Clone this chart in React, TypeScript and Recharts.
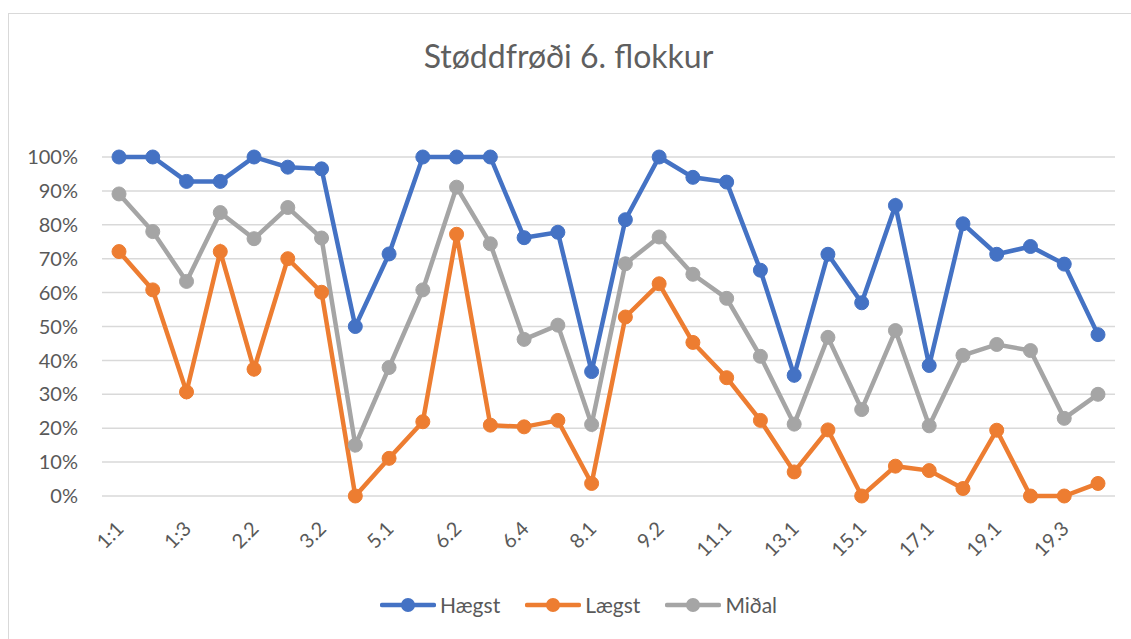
import React from 'react';
import { LineChart, Line, XAxis, YAxis, CartesianGrid, Legend } from 'recharts';

const categories = [
  '1:1', '1:2', '1:3', '2.1', '2.2', '3.1', '3.2', '4.1', '5.1', '6.1',
  '6.2', '6.3', '6.4', '7.1', '8.1', '9.1', '9.2', '10.1', '11.1', '12.1',
  '13.1', '14.1', '15.1', '16.1', '17.1', '18.1', '19.1', '19.2', '19.3', '20.1',
];

const haegst = [
  100, 100, 92.8, 92.8, 100, 97, 96.5, 50, 71.4, 100,
  100, 100, 76.2, 77.8, 36.7, 81.5, 100, 94, 92.6, 66.6,
  35.6, 71.3, 57, 85.7, 38.5, 80.3, 71.3, 73.6, 68.4, 47.6,
];

const laegst = [
  72.1, 60.8, 30.7, 72.1, 37.4, 70, 60.1, 0, 11.1, 21.9,
  77.2, 20.9, 20.4, 22.3, 3.7, 52.8, 62.6, 45.3, 34.9, 22.3,
  7.1, 19.5, 0, 8.8, 7.5, 2.2, 19.4, 0, 0, 3.7,
];

const midal = [
  89.1, 78, 63.3, 83.6, 75.9, 85.1, 76.1, 15, 37.9, 60.8,
  91.1, 74.4, 46.2, 50.4, 21.1, 68.5, 76.4, 65.4, 58.3, 41.2,
  21.2, 46.8, 25.5, 48.8, 20.7, 41.5, 44.7, 42.9, 22.9, 30,
];

const yTicks = [0, 10, 20, 30, 40, 50, 60, 70, 80, 90, 100];

const series = [
  { key: 'haegst', name: 'Hægst', color: '#4472C4' },
  { key: 'laegst', name: 'Lægst', color: '#ED7D31' },
  { key: 'midal', name: 'Miðal', color: '#A5A5A5' },
];

const data = categories.map((c, i) => ({
  name: c,
  haegst: haegst[i],
  laegst: laegst[i],
  midal: midal[i],
}));

const FONT = 'Lato, "Open Sans", sans-serif';
const TEXT = '#595959';

const XTick = (props: any) => {
  const { x, y, payload } = props;
  return (
    <g transform={`translate(${x + 6},${y + 32})`}>
      <text transform="rotate(-45)" textAnchor="end" fill={TEXT} fontSize={20} fontFamily={FONT}>
        {payload.value}
      </text>
    </g>
  );
};

const LegendBox = () => (
  <div style={{ display: 'flex', alignItems: 'center', fontFamily: FONT, fontSize: 21, color: TEXT }}>
    {series.map((s) => (
      <div key={s.key} style={{ display: 'flex', alignItems: 'center', marginRight: 25 }}>
        <svg width={56} height={16} style={{ marginRight: 4 }}>
          <line x1={2} y1={8} x2={54} y2={8} stroke={s.color} strokeWidth={4.5} strokeLinecap="round" />
          <circle cx={28} cy={8} r={7} fill={s.color} />
        </svg>
        <span>{s.name}</span>
      </div>
    ))}
  </div>
);

export default function App() {
  return (
    <div style={{ position: 'absolute', left: 0, top: 0, width: 1131, height: 639, background: '#fff', overflow: 'hidden' }}>
      <div
        style={{
          position: 'absolute', left: 8, top: 13, width: 1140, height: 640,
          borderLeft: '1.5px solid #d9d9d9', borderTop: '1.5px solid #d9d9d9',
        }}
      />
      <div
        style={{
          position: 'absolute', left: 0, width: 1137, top: 35, textAlign: 'center',
          fontFamily: FONT, fontSize: 32, color: '#5f5f5f', lineHeight: '42px',
        }}
      >
        Støddfrøði 6. flokkur
      </div>
      <div style={{ position: 'absolute', left: 0, top: 0 }}>
        <LineChart
          width={1131}
          height={639}
          data={data}
          margin={{ top: 157, right: 16, bottom: 0, left: 0 }}
        >
          <CartesianGrid vertical={false} stroke="#d9d9d9" strokeWidth={1.5} />
          <XAxis
            dataKey="name"
            interval={1}
            height={143}
            axisLine={false}
            tickLine={false}
            tickSize={0}
            padding={{ left: 17, right: 17 }}
            tick={<XTick />}
          />
          <YAxis
            domain={[0, 100]}
            ticks={yTicks}
            width={102}
            axisLine={false}
            tickLine={false}
            tickSize={0}
            tickMargin={24}
            tickFormatter={(v: number) => `${v}%`}
            tick={{ fill: TEXT, fontSize: 20, fontFamily: FONT }}
          />
          <Legend
            verticalAlign="middle"
            layout="horizontal"
            content={<LegendBox />}
            wrapperStyle={{ left: 380, top: 592, width: 460 }}
          />
          {series.map((s) => (
            <Line
              key={s.key}
              type="linear"
              dataKey={s.key}
              name={s.name}
              stroke={s.color}
              strokeWidth={4.5}
              dot={{ r: 7, fill: s.color, stroke: s.color, strokeWidth: 1 }}
              activeDot={false}
              isAnimationActive={false}
            />
          ))}
        </LineChart>
      </div>
    </div>
  );
}
